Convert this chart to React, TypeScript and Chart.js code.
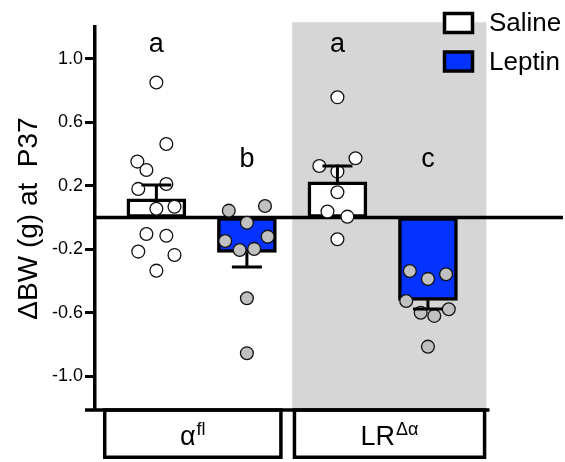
import React, { useEffect, useRef } from 'react';
import { Chart, registerables } from 'chart.js';

Chart.register(...registerables);

// ---------- data ----------
const treatments = ['Saline', 'Leptin'];
const genotypeBase = ['α', 'LR'];
const genotypeSup = ['fl', 'Δα'];
const sigLetters = ['a', 'b', 'a', 'c'];

const salineX = [1, 3];
const leptinX = [2, 4];
const salineMeans = [0.117, 0.224];
const salineSems = [0.088, 0.1];
const leptinMeans = [-0.22, -0.522];
const leptinSems = [0.092, 0.055];

const yTicks = [-1.0, -0.6, -0.2, 0.2, 0.6, 1.0];

// individual animals (y values) and horizontal jitter (x offsets, data units)
const salineAlphaY = [0.85, 0.463, 0.352, 0.299, 0.211, 0.18, 0.055, 0.068, -0.104, -0.115, -0.215, -0.236, -0.335];
const salineAlphaJit = [0, 0.11, -0.21, -0.11, 0.11, -0.2, 0, 0.2, -0.11, 0.11, -0.2, 0.2, 0];
const leptinAlphaY = [0.043, 0.072, -0.033, -0.148, -0.121, -0.205, -0.198, -0.509, -0.855];
const leptinAlphaJit = [-0.2, 0.2, 0, -0.24, 0.23, -0.08, 0.08, 0, 0];
const salineLRY = [0.757, 0.324, 0.373, 0.289, 0.159, 0.037, 0.005, -0.137];
const salineLRJit = [0, -0.2, 0.2, 0, 0, -0.11, 0.11, 0];
const leptinLRY = [-0.337, -0.387, -0.358, -0.526, -0.6, -0.62, -0.578, -0.814];
const leptinLRJit = [-0.2, 0, 0.2, -0.24, -0.08, 0.07, 0.23, 0];

// ---------- style ----------
const FONT = '"Liberation Sans", Arial, Helvetica, sans-serif';
const BLUE = '#0433ff';
const SHADE = '#d6d6d6';
const GRAYPT = '#c0c0c0';

const toPts = (xc: number, ys: number[], jit: number[]) =>
  ys.map((v, i) => ({ x: xc + jit[i], y: v }));

const overlay = {
  id: 'overlay',
  beforeDatasetsDraw(chart: any) {
    const { ctx, chartArea, scales } = chart;
    const x = scales.x;
    const y = scales.y;
    ctx.save();
    // shaded LR region
    const gx0 = x.getPixelForValue(2.5);
    const gx1 = x.getPixelForValue(4.645);
    const gy0 = y.getPixelForValue(1.23);
    ctx.fillStyle = SHADE;
    ctx.fillRect(gx0, gy0, gx1 - gx0, chartArea.bottom - gy0);

    // zero line
    ctx.strokeStyle = '#000';
    ctx.lineWidth = 3.5;
    const y0 = y.getPixelForValue(0);
    ctx.beginPath();
    ctx.moveTo(chartArea.left, y0);
    ctx.lineTo(chart.width - 2, y0);
    ctx.stroke();

    // bottom line
    ctx.beginPath();
    ctx.moveTo(chartArea.left - 10, chartArea.bottom);
    ctx.lineTo(x.getPixelForValue(4.68), chartArea.bottom);
    ctx.stroke();

    // genotype boxes
    const boxes = [
      [0.41, 2.395],
      [2.506, 4.645],
    ];
    const bTop = chartArea.bottom;
    const bBot = chartArea.bottom + 49;
    boxes.forEach((b, i) => {
      const l = x.getPixelForValue(b[0]) + 1.75;
      const r = x.getPixelForValue(b[1]) - 1.75;
      ctx.strokeRect(l, bTop, r - l, bBot - 1.75 - bTop);
      const cx = (l + r) / 2;
      ctx.fillStyle = '#000';
      ctx.textBaseline = 'alphabetic';
      ctx.textAlign = 'left';
      ctx.font = `27px ${FONT}`;
      const wb = ctx.measureText(genotypeBase[i]).width;
      ctx.font = `18px ${FONT}`;
      const ws = ctx.measureText(genotypeSup[i]).width;
      const sx = cx - (wb + ws + 1) / 2;
      ctx.font = `27px ${FONT}`;
      ctx.fillText(genotypeBase[i], sx, bTop + 35);
      ctx.font = `18px ${FONT}`;
      ctx.fillText(genotypeSup[i], sx + wb + 1, bTop + 25);
    });

    // significance letters
    const levels = [1.04, 0.32, 1.04, 0.32];
    ctx.font = `27px ${FONT}`;
    ctx.textAlign = 'center';
    ctx.fillStyle = '#000';
    sigLetters.forEach((t, i) => {
      ctx.fillText(t, x.getPixelForValue(i + 1), y.getPixelForValue(levels[i]));
    });
    ctx.restore();
  },
  afterDatasetsDraw(chart: any) {
    const { ctx, scales } = chart;
    const x = scales.x;
    const y = scales.y;
    ctx.save();
    ctx.strokeStyle = '#000';
    ctx.lineWidth = 3;
    const drawErr = (xv: number, m: number, s: number) => {
      const px = x.getPixelForValue(xv);
      const pm = y.getPixelForValue(m);
      const pe = y.getPixelForValue(m + Math.sign(m) * s);
      ctx.beginPath();
      ctx.moveTo(px, pm);
      ctx.lineTo(px, pe);
      ctx.moveTo(px - 15, pe);
      ctx.lineTo(px + 15, pe);
      ctx.stroke();
    };
    salineX.forEach((xv, i) => drawErr(xv, salineMeans[i], salineSems[i]));
    leptinX.forEach((xv, i) => drawErr(xv, leptinMeans[i], leptinSems[i]));

    // legend
    const fills = ['#ffffff', BLUE];
    const lx = 444.5;
    const lys = [13.5, 52];
    ctx.lineWidth = 3.5;
    ctx.font = `26px ${FONT}`;
    ctx.textAlign = 'left';
    ctx.textBaseline = 'middle';
    treatments.forEach((t, i) => {
      ctx.fillStyle = fills[i];
      ctx.fillRect(lx, lys[i], 28, 19);
      ctx.strokeRect(lx, lys[i], 28, 19);
      ctx.fillStyle = '#000';
      ctx.fillText(t, 489, lys[i] + 10.5);
    });
    ctx.restore();
  },
};

export default function App() {
  const ref = useRef<HTMLCanvasElement | null>(null);
  useEffect(() => {
    const canvas = ref.current;
    if (!canvas) return;
    const ptCommon = {
      type: 'scatter' as const,
      pointRadius: 6.4,
      pointBorderWidth: 1.3,
      pointBorderColor: '#111',
      order: 1,
    };
    const chart = new Chart(canvas, {
      type: 'bar',
      data: {
        datasets: [
          {
            type: 'bar',
            label: treatments[0],
            data: salineX.map((xv, i) => ({ x: xv, y: salineMeans[i] })),
            backgroundColor: '#ffffff',
            borderColor: '#000',
            borderWidth: 3.5,
            borderSkipped: false,
            barThickness: 59,
            grouped: false,
            order: 2,
          } as any,
          {
            type: 'bar',
            label: treatments[1],
            data: leptinX.map((xv, i) => ({ x: xv, y: leptinMeans[i] })),
            backgroundColor: BLUE,
            borderColor: '#000',
            borderWidth: 3.5,
            borderSkipped: false,
            barThickness: 59,
            grouped: false,
            order: 2,
          } as any,
          { ...ptCommon, data: toPts(salineX[0], salineAlphaY, salineAlphaJit), pointBackgroundColor: '#fff' } as any,
          { ...ptCommon, data: toPts(leptinX[0], leptinAlphaY, leptinAlphaJit), pointBackgroundColor: GRAYPT } as any,
          { ...ptCommon, data: toPts(salineX[1], salineLRY, salineLRJit), pointBackgroundColor: '#fff' } as any,
          { ...ptCommon, data: toPts(leptinX[1], leptinLRY, leptinLRJit), pointBackgroundColor: GRAYPT } as any,
        ],
      },
      options: {
        responsive: false,
        animation: false,
        devicePixelRatio: 1,
        layout: { padding: { top: 27, bottom: 52, right: 2, left: 0 } },
        plugins: { legend: { display: false }, tooltip: { enabled: false } },
        scales: {
          x: { type: 'linear', min: 0.322, max: 5.429, offset: false, display: false },
          y: {
            type: 'linear',
            min: -1.213,
            max: 1.2,
            afterBuildTicks: (s: any) => {
              s.ticks = yTicks.map((v) => ({ value: v }));
            },
            afterFit: (s: any) => {
              s.width = 95;
            },
            border: { display: true, color: '#000', width: 3.5 },
            grid: {
              drawOnChartArea: false,
              drawTicks: true,
              tickLength: 10,
              tickWidth: 3,
              tickColor: '#000',
              color: '#000',
            },
            ticks: {
              color: '#000',
              padding: 2,
              font: { family: FONT, size: 18 },
              callback: (v: any) => Number(v).toFixed(1),
            },
            title: {
              display: true,
              text: 'ΔBW (g) at  P37',
              color: '#000',
              font: { family: FONT, size: 28 },
              padding: { top: 12, bottom: 0 },
            },
          },
        },
      },
      plugins: [overlay],
    } as any);
    return () => chart.destroy();
  }, []);
  return (
    <div style={{ position: 'fixed', left: 0, top: 0, width: 565, height: 462, background: '#fff' }}>
      <canvas ref={ref} width={565} height={462} style={{ display: 'block' }} />
    </div>
  );
}
